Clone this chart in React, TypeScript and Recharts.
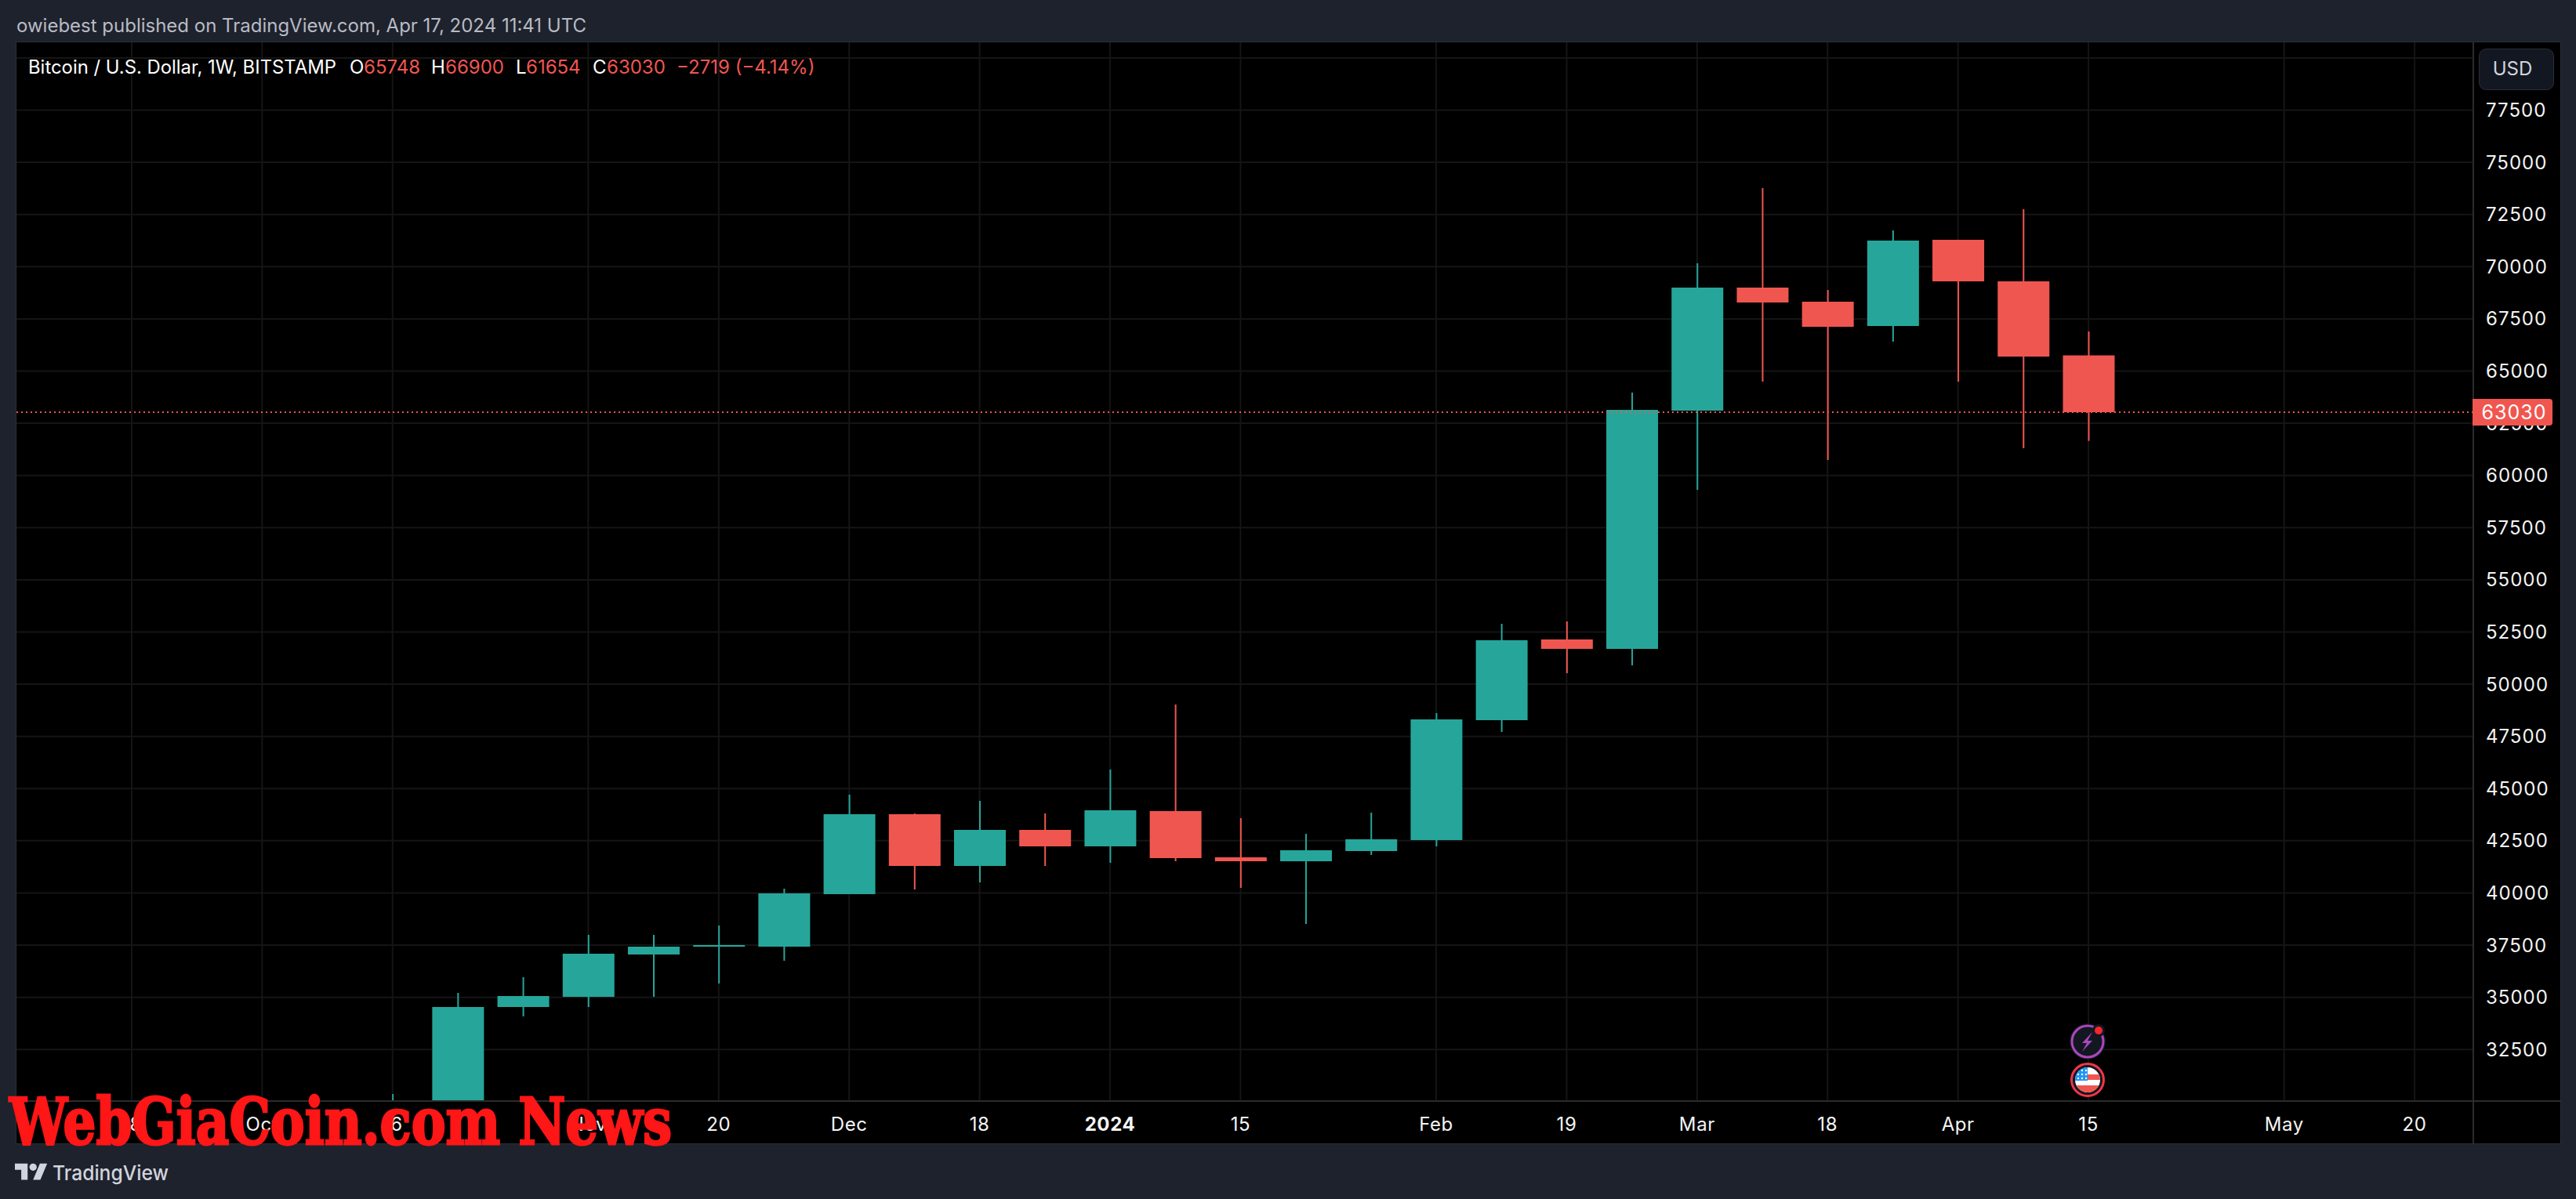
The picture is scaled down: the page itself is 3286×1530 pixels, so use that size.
import { Bar, CartesianGrid, Cell, ComposedChart, ReferenceLine, XAxis, YAxis } from "recharts";

const FONT = "Inter, 'Noto Sans', sans-serif";
const UP = "#26a69a";
const DOWN = "#f05650";
const GRID = "#151515";
const AXIS = "#2b2b2b";
const PAGE = "#1e222d";
const EDGE = "#2a2e39";
const TEXT = "#f4f4f4";

// weeks counted from the candle of Oct 16 2023
const weeks = [0, 1, 2, 3, 4, 5, 6, 7, 8, 9, 10, 11, 12, 13, 14, 15, 16, 17, 18, 19, 20, 21, 22, 23, 24, 25, 26];
const opens = [27150, 29990, 34536, 35024, 37051, 37427, 37427, 39941, 43771, 41293, 43020, 42232, 43921, 41706, 41518, 42006, 42532, 48276, 52143, 51692, 63104, 68998, 68322, 67158, 71288, 69298, 65748];
const highs = [30370, 35212, 35963, 37990, 37990, 38440, 40205, 44709, 43808, 44409, 43808, 45910, 49026, 43583, 42832, 43846, 48614, 52893, 53006, 63967, 70161, 73765, 68885, 71738, 71288, 72752, 66900];
const lows = [26900, 29800, 34086, 34536, 35024, 35662, 36751, 39941, 40167, 40504, 41293, 41443, 41518, 40242, 38515, 41819, 42232, 47713, 50529, 50904, 59313, 64493, 60739, 66408, 64493, 61302, 61654];
const closes = [29990, 34536, 35062, 37089, 37427, 37502, 39979, 43771, 41293, 43020, 42232, 43958, 41668, 41518, 42044, 42569, 48314, 52105, 51692, 63142, 68998, 68284, 67121, 71250, 69298, 65694, 63030];

const tickWeeks = [-4, -2, 0, 3, 5, 7, 9, 11, 13, 16, 18, 20, 22, 24, 26, 29, 31];
const tickLabels = ["18", "Oct", "16", "Nov", "20", "Dec", "18", "2024", "15", "Feb", "19", "Mar", "18", "Apr", "15", "May", "20"];
const priceTicks = [32500, 35000, 37500, 40000, 42500, 45000, 47500, 50000, 52500, 55000, 57500, 60000, 62500, 65000, 67500, 70000, 72500, 75000, 77500];
const gridPrices = [...priceTicks, 80000];
const lastPrice = 63030;

const candles = weeks.map((week, i) => ({
  week,
  wick: [lows[i], highs[i]],
  body: [Math.min(opens[i], closes[i]), Math.max(opens[i], closes[i])],
  up: closes[i] >= opens[i],
}));

const xDomain = [-5.766, 31.9];
const yDomain = [30031, 80748];

function TimeTick({ x, y, payload }: any) {
  const label = tickLabels[tickWeeks.indexOf(payload.value)];
  return (
    <text x={x} y={y + 30} textAnchor="middle" fontFamily={FONT} fontSize={24} fontWeight={label === "2024" ? 700 : 400} letterSpacing={0.6} fill={TEXT}>
      {label}
    </text>
  );
}

function Legend() {
  const part = { fontFamily: FONT, fontSize: 24, y: 94 };
  return (
    <>
      <text {...part} x={36} fill="#fff" textLength={393} lengthAdjust="spacingAndGlyphs">Bitcoin / U.S. Dollar, 1W, BITSTAMP</text>
      <text {...part} x={446} fill="#fff">O</text>
      <text {...part} x={464} fill={DOWN}>65748</text>
      <text {...part} x={550} fill="#fff">H</text>
      <text {...part} x={568} fill={DOWN}>66900</text>
      <text {...part} x={658} fill="#fff">L</text>
      <text {...part} x={671} fill={DOWN}>61654</text>
      <text {...part} x={756} fill="#fff">C</text>
      <text {...part} x={774} fill={DOWN}>63030</text>
      <text {...part} x={863} fill={DOWN}>−2719 (−4.14%)</text>
    </>
  );
}

function EventIcons() {
  return (
    <g>
      <circle cx={2663} cy={1329} r={23} fill="#131722" />
      <circle cx={2663} cy={1329} r={20} fill="#131722" stroke="#ab47bc" strokeWidth={3} />
      <path d="M2669 1317l-13 14h6l-6 11 13-14h-6z" fill="#ab47bc" />
      <circle cx={2677} cy={1315} r={8} fill="#131722" />
      <circle cx={2677} cy={1315} r={5} fill="#f7252e" />
      <circle cx={2663} cy={1378} r={20.5} fill="#131722" stroke="#f23645" strokeWidth={3} />
      <clipPath id="flag"><circle cx={2663} cy={1378} r={16} /></clipPath>
      <g clipPath="url(#flag)">
        <rect x={2647} y={1362} width={32} height={32} fill="#fff" />
        <rect x={2663} y={1371} width={16} height={7} fill={DOWN} />
        <rect x={2647} y={1385} width={32} height={9} fill={DOWN} />
        <rect x={2647} y={1362} width={16} height={17} fill="#2196f3" />
        {[1366, 1371, 1376].map((cy) =>
          [2651, 2656, 2661].map((cx) => <circle key={`${cx}-${cy}`} cx={cx} cy={cy} r={1.2} fill="#fff" />),
        )}
      </g>
    </g>
  );
}

export default function App() {
  return (
    <div style={{ position: "absolute", left: 0, top: 0, width: 3286, height: 1530, background: PAGE, overflow: "hidden" }}>
      <div style={{ position: "absolute", left: 20, top: 53, width: 3245, height: 1405, border: `1px solid ${EDGE}` }} />
      <div style={{ position: "absolute", left: 21, top: 54, background: "#000" }}>
        <ComposedChart width={3245} height={1405} data={candles} margin={{ top: 0, right: 0, bottom: 0, left: 0 }}>
          <CartesianGrid xAxisId="wicks" horizontalValues={gridPrices} verticalValues={tickWeeks} stroke={GRID} strokeWidth={2} />
          <XAxis
            xAxisId="wicks"
            type="number"
            dataKey="week"
            domain={xDomain}
            allowDataOverflow
            ticks={tickWeeks}
            interval={0}
            height={54}
            tickLine={false}
            axisLine={{ stroke: AXIS, strokeWidth: 2 }}
            tick={<TimeTick />}
          />
          <XAxis xAxisId="bodies" type="number" dataKey="week" domain={xDomain} allowDataOverflow hide height={0} />
          <YAxis
            orientation="right"
            width={111}
            type="number"
            domain={yDomain}
            allowDataOverflow
            ticks={priceTicks}
            interval={0}
            tickLine={false}
            tickMargin={10}
            axisLine={{ stroke: AXIS, strokeWidth: 2 }}
            tick={{ fill: TEXT, fontSize: 24, fontFamily: FONT, letterSpacing: 1 }}
          />
          <Bar xAxisId="wicks" dataKey="wick" barSize={2} isAnimationActive={false}>
            {candles.map((c) => (
              <Cell key={`wick-${c.week}`} fill={c.up ? UP : DOWN} />
            ))}
          </Bar>
          <Bar xAxisId="bodies" dataKey="body" barSize={66} minPointSize={2} isAnimationActive={false}>
            {candles.map((c) => (
              <Cell key={`body-${c.week}`} fill={c.up ? UP : DOWN} />
            ))}
          </Bar>
          <ReferenceLine xAxisId="wicks" y={lastPrice} stroke={DOWN} strokeWidth={2} strokeDasharray="2 4" />
        </ComposedChart>
      </div>

      <svg width={3286} height={1530} style={{ position: "absolute", left: 0, top: 0, pointerEvents: "none" }}>
        <line x1={3155} x2={3266} y1={1405} y2={1405} stroke={AXIS} strokeWidth={2} />
        <line x1={3155} x2={3155} y1={1405} y2={1459} stroke={AXIS} strokeWidth={2} />

        <path d="M3154 509h98a4 4 0 0 1 4 4v26a4 4 0 0 1 -4 4h-98z" fill={DOWN} />
        <text x={3207} y={535} textAnchor="middle" fontFamily={FONT} fontSize={25} letterSpacing={1} fill="#fff">{lastPrice}</text>

        <text x={21} y={41} fontFamily={FONT} fontSize={24} fill="#b8bbc4" textLength={727} lengthAdjust="spacingAndGlyphs">
          owiebest published on TradingView.com, Apr 17, 2024 11:41 UTC
        </text>
        <Legend />

        <rect x={3162.5} y={62.5} width={95} height={52} rx={9} fill="#131722" stroke={EDGE} />
        <text x={3205} y={96} textAnchor="middle" fontFamily={FONT} fontSize={24} fill="#d1d4dc">USD</text>

        <EventIcons />

        <text
          x={12}
          y={1460}
          fontFamily="'DejaVu Serif', serif"
          fontSize={82}
          fontWeight={700}
          fill="#ff1616"
          stroke="#ff1616"
          strokeWidth={3}
          textLength={845}
          lengthAdjust="spacingAndGlyphs"
        >
          WebGiaCoin.com News
        </text>

        <g transform="translate(19 1480) scale(1.16)" fill="#d1d4dc">
          <path d="M14 22H7V11H0V4h14v18zM28 22h-8l7.5-18h8L28 22z" />
          <circle cx={20} cy={8} r={4} />
        </g>
        <text x={67} y={1506} fontFamily={FONT} fontSize={26} fontWeight={500} fill="#d1d4dc" textLength={148} lengthAdjust="spacingAndGlyphs">
          TradingView
        </text>
      </svg>
    </div>
  );
}
